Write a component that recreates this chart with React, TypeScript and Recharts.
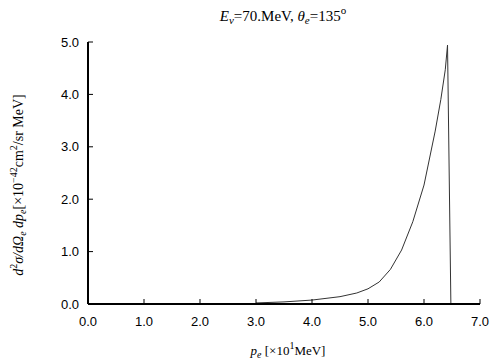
import { LineChart, Line, XAxis, YAxis } from 'recharts'

// electron momentum p_e [x10 MeV] and cross section [x10^-42 cm^2/sr MeV]
const momentum = [3.0, 3.5, 4.0, 4.5, 4.8, 5.0, 5.2, 5.4, 5.6, 5.8, 6.0, 6.2, 6.3, 6.38, 6.42, 6.48]
const crossSection = [0.02, 0.04, 0.075, 0.14, 0.21, 0.29, 0.42, 0.66, 1.03, 1.57, 2.27, 3.3, 3.9, 4.47, 4.94, 0]

const xTicks = [0, 1, 2, 3, 4, 5, 6, 7]
const yTicks = [0, 1, 2, 3, 4, 5]

const data = momentum.map((p, i) => ({ p, sigma: crossSection[i] }))

const tickFont = { fontFamily: '"Liberation Sans", Arial, sans-serif', fontSize: 13, fill: '#000' }
const serif = '"Liberation Serif", "Times New Roman", serif'
const TICK = 5

const BottomTick = ({ x, y, payload }: any) => (
  <g>
    <line x1={x} x2={x} y1={y} y2={y - TICK} stroke="#000" />
    <text x={x} y={y + 22} textAnchor="middle" {...tickFont}>
      {Number(payload.value).toFixed(1)}
    </text>
  </g>
)

const LeftTick = ({ x, y, payload }: any) => (
  <g>
    <line x1={x} x2={x + TICK} y1={y} y2={y} stroke="#000" />
    <text x={x - 9} y={y} dy="0.36em" textAnchor="end" {...tickFont}>
      {Number(payload.value).toFixed(1)}
    </text>
  </g>
)

const TopTick = ({ x, y }: any) => <line x1={x} x2={x} y1={y} y2={y + TICK} stroke="#000" />
const RightTick = ({ x, y }: any) => <line x1={x} x2={x - TICK} y1={y} y2={y} stroke="#000" />

const frame = { stroke: '#000', strokeWidth: 2 }

export default function App() {
  return (
    <div style={{ position: 'absolute', left: 0, top: 0, width: 504, height: 360, background: '#fff' }}>
      <LineChart width={504} height={360} data={data} margin={{ top: 42, right: 24, left: 0, bottom: 0 }}>
        <XAxis
          dataKey="p"
          type="number"
          domain={[0, 7]}
          ticks={xTicks}
          height={56}
          tickSize={0}
          tickMargin={0}
          axisLine={frame}
          tickLine={false}
          tick={<BottomTick />}
        />
        <XAxis
          xAxisId="top"
          orientation="top"
          type="number"
          domain={[0, 7]}
          ticks={xTicks}
          height={0}
          tickSize={0}
          tickMargin={0}
          axisLine={frame}
          tickLine={false}
          tick={<TopTick />}
        />
        <YAxis
          type="number"
          domain={[0, 5]}
          ticks={yTicks}
          width={88}
          tickSize={0}
          tickMargin={0}
          axisLine={frame}
          tickLine={false}
          tick={<LeftTick />}
        />
        <YAxis
          yAxisId="right"
          orientation="right"
          type="number"
          domain={[0, 5]}
          ticks={yTicks}
          width={0}
          tickSize={0}
          tickMargin={0}
          axisLine={frame}
          tickLine={false}
          tick={<RightTick />}
        />
        <Line
          dataKey="sigma"
          type="linear"
          stroke="#333"
          strokeWidth={1}
          dot={false}
          isAnimationActive={false}
        />
      </LineChart>
      <svg width={504} height={360} style={{ position: 'absolute', left: 0, top: 0, pointerEvents: 'none' }}>
        <text x={283} y={21} textAnchor="middle" fontFamily={serif} fontSize={15}>
          <tspan fontStyle="italic">E</tspan>
          <tspan fontStyle="italic" fontSize={11} dy={3}>ν</tspan>
          <tspan dy={-3}>=70.MeV,  </tspan>
          <tspan fontStyle="italic">θ</tspan>
          <tspan fontStyle="italic" fontSize={11} dy={3}>e</tspan>
          <tspan dy={-3}>=135</tspan>
          <tspan fontSize={11} dy={-7}>o</tspan>
        </text>
        <text transform="translate(23,185) rotate(-90)" textAnchor="middle" fontFamily={serif} fontSize={14}>
          <tspan fontStyle="italic">d</tspan>
          <tspan fontSize={10} dy={-6}>2</tspan>
          <tspan fontStyle="italic" dy={6}>σ/d</tspan>
          <tspan fontStyle="italic">Ω</tspan>
          <tspan fontStyle="italic" fontSize={10} dy={3}>e</tspan>
          <tspan fontStyle="italic" dy={-3}> dp</tspan>
          <tspan fontStyle="italic" fontSize={10} dy={3}>e</tspan>
          <tspan dy={-3}>[×10</tspan>
          <tspan fontSize={10} dy={-6}>−42</tspan>
          <tspan dy={6}>cm</tspan>
          <tspan fontSize={10} dy={-6}>2</tspan>
          <tspan dy={6}>/sr MeV]</tspan>
        </text>
        <text x={288} y={355} textAnchor="middle" fontFamily={serif} fontSize={13}>
          <tspan fontStyle="italic">p</tspan>
          <tspan fontStyle="italic" fontSize={10} dy={3}>e</tspan>
          <tspan dy={-3}> [×10</tspan>
          <tspan fontSize={10} dy={-6}>1</tspan>
          <tspan dy={6}>MeV]</tspan>
        </text>
      </svg>
    </div>
  )
}
